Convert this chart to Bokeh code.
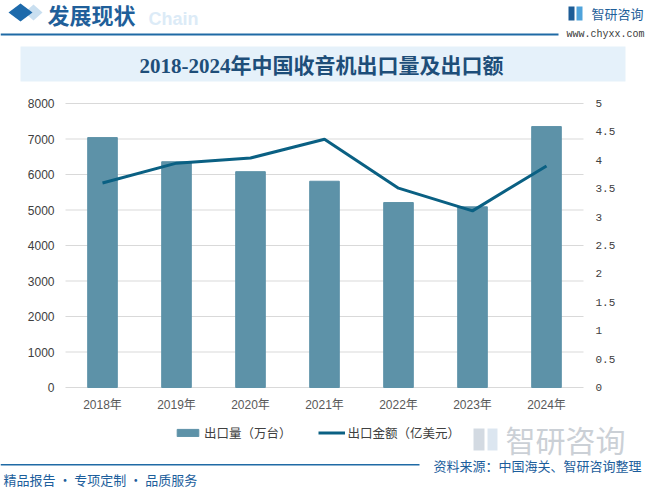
from bokeh.plotting import figure
from bokeh.models import (ColumnDataSource, FactorRange, Range1d, LinearAxis, CategoricalAxis,
                          FixedTicker, NumeralTickFormatter, Legend, LegendItem, Label,
                          BoxAnnotation, PolyAnnotation)
from bokeh.embed import file_html
from bokeh.resources import INLINE

# ---- data ----
years = ["2018年", "2019年", "2020年", "2021年", "2022年", "2023年", "2024年"]
export_qty = [7040, 6360, 6080, 5810, 5210, 5090, 7350]          # 出口量（万台）
export_amt = [3.60, 3.95, 4.04, 4.37, 3.51, 3.11, 3.90]          # 出口金额（亿美元）
qty_ticks = [0, 1000, 2000, 3000, 4000, 5000, 6000, 7000, 8000]
amt_ticks = [0, 0.5, 1, 1.5, 2, 2.5, 3, 3.5, 4, 4.5, 5]
qty_max, amt_max = 8000, 5
title_text = "2018-2024年中国收音机出口量及出口额"
series_names = ["出口量（万台）", "出口金额（亿美元）"]

CJK = "'Noto Sans CJK SC'"
SANS = "'Liberation Sans', 'Noto Sans CJK SC'"
MONO = "'Liberation Mono', 'Noto Sans CJK SC'"
BLUE = "#1F5F9A"
BAR = "#5D92A8"
LINE = "#0A6083"
GRID = "#D9D9D9"

# page layout (px): canvas 652x491, frame covers the canvas (right 4px spare);
# plotting area: left 65, right 583, top 103, bottom 387
W, H = 652, 491
PL, PR, PT, PB = 65, 583, 103, 387
pad = PL                                   # symmetric horizontal padding around the categories
cat_w = (PR - PL) / len(years)
qpp = qty_max / (PB - PT)                  # data units per pixel (left axis)
app = amt_max / (PB - PT)                  # data units per pixel (right axis)


def X(px):
    return px


def Y(py):
    return H - py


src = ColumnDataSource(dict(year=years, qty=export_qty, amt=export_amt))
p = figure(width=W, height=H,
           x_range=FactorRange(factors=years, range_padding=pad / cat_w, range_padding_units="absolute"),
           y_range=Range1d(-(H - PB) * qpp, qty_max + PT * qpp),
           x_axis_location=None, y_axis_location=None, toolbar_location=None,
           output_backend="svg", min_border_left=0, min_border_right=W - PR - pad,
           min_border_top=0, min_border_bottom=0)
p.outline_line_color = None
p.grid.visible = False
p.extra_y_ranges = {"amt": Range1d(-(H - PB) * app, amt_max + PT * app)}

# grid lines over the plotting area only
for t in qty_ticks:
    p.add_layout(BoxAnnotation(top=t + 0.5 * qpp, bottom=t - 0.5 * qpp, left=X(PL), right=X(PR),
                               left_units="screen", right_units="screen",
                               fill_color=GRID, fill_alpha=1, line_color=None, level="underlay"))

ly = LinearAxis(fixed_location=0, ticker=FixedTicker(ticks=qty_ticks), axis_line_color=None,
                major_tick_line_color=None, minor_tick_line_color=None,
                major_tick_out=0, major_tick_in=0, major_label_standoff=11,
                major_label_text_font=SANS, major_label_text_font_size="12px",
                major_label_text_color="#404040")
p.add_layout(ly, "left")
ry = LinearAxis(y_range_name="amt", fixed_location=len(years), ticker=FixedTicker(ticks=amt_ticks),
                formatter=NumeralTickFormatter(format="0.[0]"), axis_line_color=None,
                major_tick_line_color=None, minor_tick_line_color=None,
                major_tick_out=0, major_tick_in=0, major_label_standoff=12,
                major_label_text_font=MONO, major_label_text_font_size="11px",
                major_label_text_color="#404040")
p.add_layout(ry, "right")
cx = CategoricalAxis(fixed_location=0, axis_line_color=None, major_tick_line_color=None,
                     major_tick_out=0, major_tick_in=0, major_label_standoff=10,
                     major_label_text_font=SANS, major_label_text_font_size="12px",
                     major_label_text_color="#595959")
p.add_layout(cx, "below")

bars = p.vbar(x="year", top="qty", width=0.4, source=src, color=BAR)
ln = p.line(x="year", y="amt", source=src, y_range_name="amt", line_color=LINE, line_width=3)

lg = Legend(items=[LegendItem(label=series_names[0], renderers=[bars]),
                   LegendItem(label=series_names[1], renderers=[ln])],
            orientation="horizontal", location=(X(174), Y(442)), glyph_width=27, glyph_height=9,
            label_standoff=3, spacing=26, padding=4, margin=0, border_line_color=None,
            background_fill_alpha=0, label_text_font=CJK, label_text_font_size="12.5px",
            label_text_color="#404040")
p.add_layout(lg, "center")


def box(l, r, t, b, color, level="underlay"):
    p.add_layout(BoxAnnotation(left=X(l), right=X(r), top=Y(t), bottom=Y(b),
                               left_units="screen", right_units="screen",
                               top_units="screen", bottom_units="screen",
                               fill_color=color, fill_alpha=1, line_color=None, level=level))


def poly(xs, ys, color):
    p.add_layout(PolyAnnotation(xs=[X(v) for v in xs], ys=[Y(v) for v in ys],
                                xs_units="screen", ys_units="screen",
                                fill_color=color, fill_alpha=1, line_color=None))


def label(x, y, text, size, color, font=CJK, align="left", bold=False):
    p.add_layout(Label(x=X(x), y=Y(y), x_units="screen", y_units="screen", text=text,
                       text_align=align, text_baseline="middle", text_font=font,
                       text_font_size=size, text_color=color,
                       text_font_style="bold" if bold else "normal"))


# ---- header ----
poly([24, 33, 42, 33], [12, 4, 12, 20], "#C9DFF0")
poly([8, 20, 32, 20], [12, 3, 12, 21], "#1D6AAB")
label(148, 18, "Chain", "18px", "#DCEBF7", font="'Liberation Sans'", bold=True)
label(47, 13, "发展现状", "22px", BLUE, bold=True)
box(0, 558, 33, 35, "#1F6AA5")
box(568, 574, 6, 20, "#1D5C96")
box(576, 582, 6, 20, "#4FA3DB")
label(591, 13, "智研咨询", "13px", BLUE)
label(605, 34, "www.chyxx.com", "10px", "#3A3A3A", font="'Liberation Mono'", align="center")
box(20, 625, 46, 81, "#E5F1FA")
label(321, 65, title_text, "21px", "#1E4E79", font="'Liberation Serif', 'Noto Sans CJK SC'",
      align="center", bold=True)

# ---- watermark & footer ----
box(473, 484, 428, 450, "#D3DAE2")
box(487, 497, 428, 450, "#DCE6F0")
label(505, 438, "智研咨询", "30px", "#CBD0D6")
box(0, 419, 463.5, 465, "#1F6AA5")
label(433, 465, "资料来源：中国海关、智研咨询整理", "13px", "#1C5E9C")
label(3, 479, "精品报告 · 专项定制 · 品质服务", "13px", "#1C5E9C")

open("out.html", "w").write(file_html(p, INLINE))
